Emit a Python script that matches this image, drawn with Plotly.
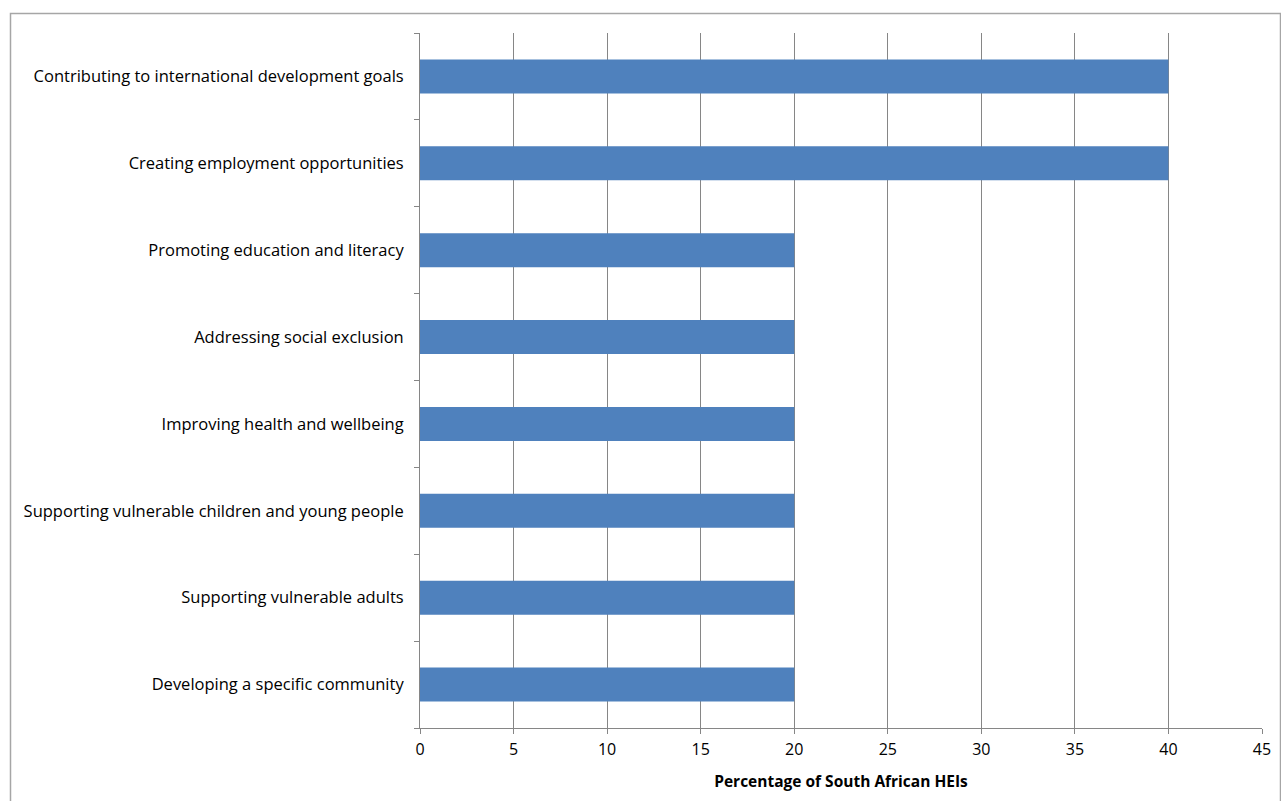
import plotly.graph_objects as go

categories = [
    "Contributing to international development goals",
    "Creating employment opportunities",
    "Promoting education and literacy",
    "Addressing social exclusion",
    "Improving health and wellbeing",
    "Supporting vulnerable children and young people",
    "Supporting vulnerable adults",
    "Developing a specific community",
]
values = [40, 40, 20, 20, 20, 20, 20, 20]
x_ticks = [0, 5, 10, 15, 20, 25, 30, 35, 40, 45]

fig = go.Figure(go.Bar(
    y=categories, x=values, orientation="h",
    marker=dict(color="#4f81bd", line=dict(width=0)),
    width=0.39,
))

W, H = 1281, 801
L, R, T, B = 420, 19, 33, 73
pw, ph = W - L - R, H - T - B

def px(x):
    return (x - L) / pw

def py(y):
    return (H - B - y) / ph

fig.update_layout(
    width=W, height=H,
    margin=dict(l=L, r=R, t=T, b=B, autoexpand=False),
    paper_bgcolor="white", plot_bgcolor="white",
    font=dict(family="Open Sans, sans-serif", size=16, color="#000000"),
    showlegend=False,
    xaxis=dict(
        range=[0, 45], tickvals=x_ticks, ticktext=[str(v) for v in x_ticks],
        showgrid=True, gridcolor="#868686", gridwidth=1,
        showline=True, linecolor="#868686", linewidth=1,
        ticks="outside", ticklen=5, tickcolor="#868686",
        ticklabelstandoff=2, automargin=False,
        zeroline=False,
        title=dict(text="<b>Percentage of South African HEIs</b>", font=dict(size=15.5), standoff=16),
        fixedrange=True,
    ),
    yaxis=dict(
        categoryorder="array", categoryarray=categories[::-1],
        autorange=False, range=[-0.5, 7.5],
        showline=True, linecolor="#868686", linewidth=1,
        ticks="outside", ticklen=5, tickcolor="#868686",
        tickson="boundaries", ticklabelstandoff=12, automargin=False,
        tickfont=dict(size=16.5),
        showgrid=False, zeroline=False,
        fixedrange=True,
    ),
    shapes=[dict(
        type="rect", xref="paper", yref="paper",
        x0=px(10.5), x1=px(1280.5), y0=py(806), y1=py(13.5),
        line=dict(color="#a6a6a6", width=1.5), fillcolor="rgba(0,0,0,0)", layer="below",
    )],
)

fig.write_html("out.html")
